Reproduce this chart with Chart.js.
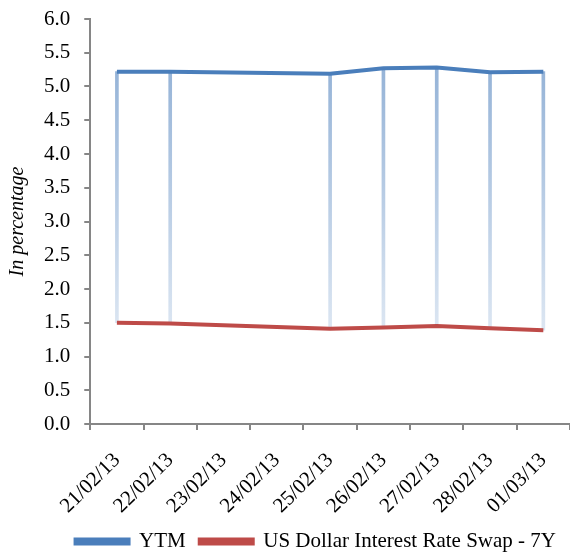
<!DOCTYPE html>
<html>
<head>
<meta charset="utf-8">
<script src="https://cdn.jsdelivr.net/npm/chart.js@4/dist/chart.umd.min.js"></script>
<style>
  html, body { margin: 0; padding: 0; background: #fff; }
  #wrap { width: 570px; height: 552px; }
</style>
</head>
<body>
<div id="wrap"><canvas id="chart"></canvas></div>
<script>
// dates on the axis (23-24 Feb are a weekend, no quotes)
const dates = ['21/02/13', '22/02/13', '23/02/13', '24/02/13', '25/02/13', '26/02/13', '27/02/13', '28/02/13', '01/03/13'];
const ytm = [5.22, 5.22, null, null, 5.19, 5.27, 5.28, 5.21, 5.22];
const swap7y = [1.50, 1.49, null, null, 1.41, 1.43, 1.45, 1.42, 1.39];
const yTicks = [0, 0.5, 1, 1.5, 2, 2.5, 3, 3.5, 4, 4.5, 5, 5.5, 6];

const AXIS_GREY = '#868686';
const FONT = 'Liberation Serif';

// high-low lines between the two series
const dropLines = dates.map((d, i) => (ytm[i] == null ? null : [swap7y[i], ytm[i]]));

const dropColor = (ctx) => {
  const chart = ctx.chart;
  if (!chart.chartArea || !chart.scales.y) return '#b9cde5';
  const y = chart.scales.y;
  const g = chart.ctx.createLinearGradient(0, y.getPixelForValue(5.3), 0, y.getPixelForValue(1.4));
  g.addColorStop(0, '#95b3d7');
  g.addColorStop(1, '#dce6f2');
  return g;
};

new Chart(document.getElementById('chart'), {
  type: 'bar',
  data: {
    labels: dates,
    datasets: [
      {
        type: 'line',
        label: 'YTM',
        data: ytm,
        borderColor: '#4a7ebb',
        backgroundColor: '#4a7ebb',
        borderWidth: 4,
        pointRadius: 0,
        tension: 0,
        spanGaps: true,
        order: 1
      },
      {
        type: 'line',
        label: 'US Dollar Interest Rate Swap - 7Y',
        data: swap7y,
        borderColor: '#be4b48',
        backgroundColor: '#be4b48',
        borderWidth: 4,
        pointRadius: 0,
        tension: 0,
        spanGaps: true,
        order: 2
      },
      {
        label: 'drop',
        data: dropLines,
        backgroundColor: dropColor,
        barThickness: 3,
        borderSkipped: false,
        order: 3
      }
    ]
  },
  options: {
    responsive: true,
    maintainAspectRatio: false,
    animation: false,
    layout: { padding: { left: 6, right: 0, top: 0, bottom: -10 } },
    scales: {
      x: {
        offset: true,
        afterFit: (scale) => {
          scale.height = 93;
          scale.paddingLeft = 0;
          scale.paddingRight = 0;
        },
        grid: {
          offset: true,
          drawOnChartArea: false,
          color: AXIS_GREY,
          lineWidth: 2,
          tickLength: 6
        },
        border: { color: AXIS_GREY, width: 2 },
        ticks: {
          color: '#000',
          font: { family: FONT, size: 21 },
          minRotation: 45,
          maxRotation: 45,
          padding: 18
        }
      },
      y: {
        min: 0,
        max: 6,
        afterBuildTicks: (axis) => { axis.ticks = yTicks.map(v => ({ value: v })); },
        afterFit: (scale) => { scale.paddingTop = 19; },
        grid: {
          drawOnChartArea: false,
          color: AXIS_GREY,
          lineWidth: 2,
          tickLength: 6
        },
        border: { color: AXIS_GREY, width: 2 },
        ticks: {
          color: '#000',
          font: { family: FONT, size: 21 },
          padding: 14,
          callback: (v) => Number(v).toFixed(1)
        },
        title: {
          display: true,
          text: 'In percentage',
          color: '#000',
          font: { family: FONT, size: 20, style: 'italic' },
          padding: { top: 0, bottom: 0 }
        }
      }
    },
    plugins: {
      legend: {
        position: 'bottom',
        align: 'end',
        labels: {
          filter: (item) => item.text !== 'drop',
          boxWidth: 53,
          boxHeight: 4,
          padding: 14,
          color: '#000',
          font: { family: FONT, size: 21 }
        }
      },
      tooltip: { enabled: false }
    }
  }
});
</script>
</body>
</html>
